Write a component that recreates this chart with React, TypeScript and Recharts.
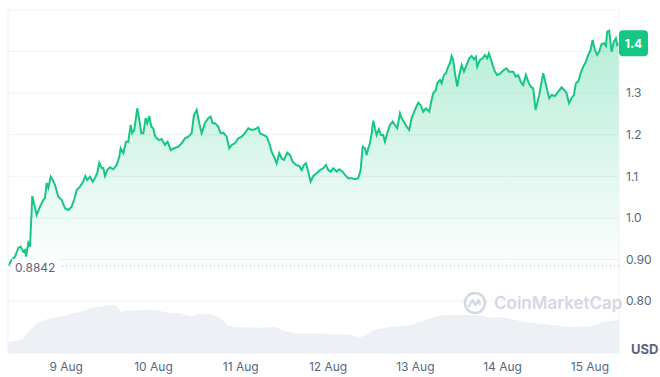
import React from 'react';
import { ComposedChart, Area, XAxis, YAxis, CartesianGrid, ReferenceLine } from 'recharts';

// hours since 8 Aug 08:00
const priceHours = [
  0, 1.02, 1.92, 2.83, 3.49, 4.21, 4.67, 4.95, 5.58, 6.05, 6.68, 7.89, 8.8, 9.7, 10.17, 10.64, 11.08, 11.74, 12.29, 12.92,
  13.83, 14.76, 15.67, 16.58, 17.51, 18.14, 18.89, 19.79, 20.7, 21.25, 21.8, 22.54, 23.29, 23.92, 24.55, 25.1, 25.76, 26.2, 26.67, 27.3,
  28.04, 28.95, 29.88, 30.6, 30.98, 31.7, 32.44, 33.07, 33.73, 34.17, 34.72, 35.55, 36.1, 36.65, 37.2, 37.86, 38.3, 38.85, 39.4, 39.94,
  40.49, 41.43, 42.25, 43.16, 43.9, 44.73, 45.64, 46.82, 47.75, 48.66, 49.57, 50.5, 51.13, 51.88, 52.59, 53.25, 54.16, 55.06, 55.72, 56.27,
  56.91, 57.81, 58.47, 59.19, 60.12, 60.84, 61.5, 62.41, 63.31, 64.25, 64.96, 66.06, 67.0, 67.9, 68.81, 69.28, 70.19, 71.12, 71.83, 72.49,
  73.13, 73.87, 74.58, 75.24, 75.88, 76.78, 77.53, 78.27, 79.17, 80.08, 80.74, 81.37, 81.92, 82.56, 83.22, 83.93, 84.87, 85.77, 86.68, 87.42,
  88.05, 88.71, 89.43, 90.36, 91.08, 92.01, 92.65, 93.55, 94.49, 95.39, 96.3, 96.96, 97.51, 98.14, 98.61, 99.05, 99.52, 99.99, 100.43, 100.89,
  101.36, 101.99, 102.54, 103.17, 103.64, 104.27, 105.02, 105.76, 106.39, 107.02, 107.77, 108.23, 108.86, 109.61, 110.32, 110.98, 111.89, 112.8, 113.46, 114.17,
  114.91, 115.82, 116.48, 116.92, 117.66, 118.02, 118.76, 119.23, 119.86, 120.41, 121.04, 121.51, 121.98, 122.42, 122.89, 123.52, 124.07, 124.73, 125.36, 126.1,
  126.82, 127.48, 128.11, 128.66, 129.02, 129.76, 130.5, 131.13, 131.77, 132.23, 132.7, 133.25, 133.88, 134.51, 135.26, 136.16, 137.04, 137.81, 138.91, 139.65,
  140.29, 140.95, 141.66, 142.4, 143.04, 143.7, 144.41, 145.07, 145.51, 146.06, 146.72, 147.16, 147.82, 148.26, 148.81, 149.47, 150.38, 151.28, 152.22, 152.93,
  153.59, 154.23, 154.97, 155.6, 156.15, 156.78, 157.44, 158.16, 158.9, 159.53, 160.19, 160.74, 161.37, 162.01, 162.56, 163.21, 163.85, 164.4, 164.75, 165.3,
  165.96, 166.6, 167.15, 167.5, 168,
];

const priceValues = [
  0.8842, 0.8988, 0.9067, 0.9277, 0.9308, 0.9188, 0.9228, 0.9067, 0.9397, 0.9308, 1.0527, 1.007, 1.027, 1.0431, 1.0479, 1.084, 1.072, 1.0991, 1.0912, 1.0792,
  1.051, 1.0431, 1.0231, 1.019, 1.027, 1.0431, 1.0671, 1.0751, 1.0871, 1.1008, 1.0912, 1.0991, 1.0871, 1.096, 1.108, 1.1321, 1.1201, 1.1201, 1.1008, 1.1152,
  1.1217, 1.1169, 1.1273, 1.1472, 1.1674, 1.1554, 1.1833, 1.1833, 1.2235, 1.2035, 1.2114, 1.2636, 1.2355, 1.2035, 1.2035, 1.2396, 1.2276, 1.2451, 1.2194, 1.2155,
  1.1953, 1.1874, 1.1891, 1.1754, 1.1833, 1.1633, 1.1674, 1.1713, 1.1795, 1.1915, 1.1953, 1.2035, 1.2475, 1.2595, 1.2276, 1.2035, 1.2283, 1.2396, 1.2434, 1.2276,
  1.2276, 1.2194, 1.2035, 1.205, 1.1953, 1.1674, 1.1754, 1.1795, 1.1915, 1.1953, 1.2018, 1.2155, 1.2114, 1.2131, 1.2179, 1.2035, 1.1994, 1.1953, 1.1795, 1.1593,
  1.1472, 1.1314, 1.1554, 1.1434, 1.1393, 1.1569, 1.1513, 1.1352, 1.1273, 1.1249, 1.1152, 1.1273, 1.1314, 1.1112, 1.0871, 1.1008, 1.1073, 1.1152, 1.1193, 1.1273,
  1.1152, 1.1112, 1.1193, 1.1112, 1.1169, 1.1112, 1.1032, 1.0953, 1.0953, 1.0929, 1.0953, 1.1152, 1.1713, 1.1674, 1.1513, 1.1674, 1.1795, 1.2035, 1.2338, 1.2155,
  1.1994, 1.2131, 1.1994, 1.1994, 1.1833, 1.2035, 1.2235, 1.2314, 1.2235, 1.2155, 1.2516, 1.2403, 1.2314, 1.2194, 1.2114, 1.2396, 1.2595, 1.2771, 1.2716, 1.2555,
  1.2636, 1.2555, 1.2836, 1.2997, 1.3076, 1.3238, 1.3317, 1.3238, 1.3437, 1.3478, 1.3637, 1.3719, 1.3894, 1.3798, 1.3478, 1.3156, 1.3437, 1.3678, 1.3517, 1.3678,
  1.3839, 1.3894, 1.3815, 1.3877, 1.3637, 1.3798, 1.3839, 1.3918, 1.3839, 1.3959, 1.3839, 1.3678, 1.3517, 1.3437, 1.3461, 1.3545, 1.3598, 1.3517, 1.3517, 1.3396,
  1.3437, 1.3276, 1.3197, 1.3437, 1.3276, 1.3156, 1.3117, 1.2595, 1.2757, 1.2956, 1.3276, 1.3478, 1.3238, 1.3076, 1.2877, 1.2956, 1.2932, 1.3036, 1.3141, 1.3076,
  1.2997, 1.2757, 1.2877, 1.2956, 1.3238, 1.3276, 1.3478, 1.3637, 1.3757, 1.3918, 1.4038, 1.4279, 1.4038, 1.3918, 1.3998, 1.4183, 1.42, 1.4135, 1.4479, 1.4503,
  1.3998, 1.4238, 1.432, 1.4159, 1.42,
];

const volumeHours = [
  0, 3.3, 6.05, 7.42, 10.17, 11.55, 14.3, 17.04, 19.79, 22.54, 25.29, 28.04, 29.42, 31.34, 33.54, 36.29, 39.04, 41.79, 44.54, 47.28,
  50.03, 52.78, 55.53, 58.28, 61.03, 63.78, 69.28, 73.4, 76.15, 80.66, 85.77, 88.52, 94.02, 96.77, 100.89, 105.02, 110.51, 114.64, 117.39, 120.14,
  122.88, 127.01, 132.51, 135.26, 139.38, 143.5, 147.63, 151.75, 155.87, 160.0, 164.13, 168,
];

const volumeValues = [
  3.29, 3.79, 6.71, 8.16, 9.62, 10.12, 10.58, 11.37, 11.95, 13.03, 13.5, 13.99, 13.91, 12.04, 12.54, 12.54, 12.62, 12.25, 11.75, 11.57,
  10.79, 11.37, 11.28, 10.12, 7.87, 7.49, 7.38, 7.58, 6.41, 5.74, 5.74, 5.54, 5.25, 4.66, 6.71, 7.58, 8.16, 9.62, 10.5, 11.08,
  11.08, 11.08, 10.5, 10.41, 9.62, 8.83, 8.46, 7.87, 7.58, 7.87, 9.13, 9.62,
];

const dayTicks = [16, 40, 64, 88, 112, 136, 160];
const dayLabels = ['9 Aug', '10 Aug', '11 Aug', '12 Aug', '13 Aug', '14 Aug', '15 Aug'];
const priceTicks = [0.8, 0.9, 1.0, 1.1, 1.2, 1.3, 1.4, 1.5];
const priceTickLabels = ['0.80', '0.90', '1.0', '1.1', '1.2', '1.3', '', ''];
const openPrice = 0.8842;
const openLabel = '0.8842';
const lastPrice = 1.42;
const lastPriceLabel = '1.4';

const priceData = priceHours.map((h, i) => ({ h, price: priceValues[i] }));
const volumeData = volumeHours.map((h, i) => ({ h, vol: volumeValues[i] }));

const GREEN = '#16c784';
const GRID = '#eff2f5';
const TEXT = '#58667e';
const FONT = 'Inter, "Noto Sans", sans-serif';

const OpenLabel = (props: any) => {
  const vb = props.viewBox || {};
  const x = vb.x;
  const y = vb.y;
  return (
    <g>
      <rect x={x + 4} y={y - 7} width={47} height={16} fill="#ffffff" />
      <text x={x + 7} y={y + 6} fill={TEXT} fontSize={12} fontFamily={FONT}>
        {openLabel}
      </text>
    </g>
  );
};

const LastBadge = (props: any) => {
  const vb = props.viewBox || {};
  const x = vb.x + vb.width;
  const y = vb.y;
  return (
    <g>
      <rect x={x} y={y - 13} width={29} height={26} rx={4} ry={4} fill={GREEN} />
      <text x={x + 14.5} y={y + 4.5} fill="#ffffff" fontSize={12} fontWeight={700} textAnchor="middle" fontFamily={FONT}>
        {lastPriceLabel}
      </text>
    </g>
  );
};

export default function App() {
  return (
    <div style={{ position: 'absolute', left: 0, top: 0, width: 660, height: 377, background: '#ffffff', fontFamily: FONT }}>
      <ComposedChart width={660} height={377} margin={{ top: 10, right: 0, bottom: 0, left: 8 }}>
        <defs>
          <linearGradient id="priceFill" x1="0" y1="0" x2="0" y2="1">
            <stop offset="0%" stopColor={GREEN} stopOpacity={0.32} />
            <stop offset="100%" stopColor={GREEN} stopOpacity={0.01} />
          </linearGradient>
        </defs>
        <CartesianGrid yAxisId="price" vertical={false} stroke={GRID} strokeWidth={1} />
        <XAxis
          dataKey="h"
          type="number"
          domain={[0, 168]}
          ticks={dayTicks}
          tickFormatter={(v: number) => dayLabels[dayTicks.indexOf(v)]}
          axisLine={false}
          tickLine={false}
          height={24}
          tickSize={6}
          tickMargin={3}
          tick={{ fill: TEXT, fontSize: 12, fontFamily: FONT }}
          allowDataOverflow
        />
        <YAxis
          yAxisId="price"
          orientation="right"
          type="number"
          domain={[0.675, 1.5]}
          ticks={priceTicks}
          tickFormatter={(v: number) => priceTickLabels[priceTicks.indexOf(v)]}
          axisLine={false}
          tickLine={false}
          width={41}
          tickSize={5}
          tickMargin={2}
          tick={{ fill: TEXT, fontSize: 12, fontFamily: FONT, textAnchor: 'start' }}
          allowDataOverflow
        />
        <YAxis yAxisId="vol" hide domain={[0, 100]} />
        <Area
          yAxisId="vol"
          data={volumeData}
          dataKey="vol"
          type="monotone"
          stroke="none"
          fill="#edf0f4"
          fillOpacity={1}
          isAnimationActive={false}
          dot={false}
          activeDot={false}
        />
        <Area
          yAxisId="price"
          data={priceData}
          dataKey="price"
          type="linear"
          baseValue={openPrice}
          stroke={GREEN}
          strokeWidth={2}
          fill="url(#priceFill)"
          fillOpacity={1}
          isAnimationActive={false}
          dot={false}
          activeDot={false}
        />
        <ReferenceLine yAxisId="price" x={0} stroke={GRID} />
        <ReferenceLine yAxisId="price" x={168} stroke={GRID} />
        <ReferenceLine
          yAxisId="price"
          y={openPrice}
          stroke="#9aa3b5"
          strokeDasharray="1 3"
          label={<OpenLabel />}
        />
        <ReferenceLine yAxisId="price" y={lastPrice} stroke="none" label={<LastBadge />} />
      </ComposedChart>
      <div
        style={{
          position: 'absolute',
          left: 463,
          top: 291,
          display: 'flex',
          alignItems: 'center',
          gap: 7,
          color: '#d3d8e2',
          fontSize: 17,
          fontWeight: 600,
          fontFamily: FONT,
          pointerEvents: 'none',
        }}
      >
        <svg width={24} height={24} viewBox="0 0 24 24">
          <circle cx={12} cy={12} r={10} fill="none" stroke="#d3d8e2" strokeWidth={2.6} />
          <path d="M6 15 L9.5 9 L12.5 14 L15.5 9 L17 13" fill="none" stroke="#d3d8e2" strokeWidth={2.4} strokeLinejoin="round" strokeLinecap="round" />
        </svg>
        <span>CoinMarketCap</span>
      </div>
      <div
        style={{
          position: 'absolute',
          left: 631,
          top: 341,
          color: TEXT,
          fontSize: 13,
          fontWeight: 700,
          fontFamily: FONT,
        }}
      >
        USD
      </div>
    </div>
  );
}
